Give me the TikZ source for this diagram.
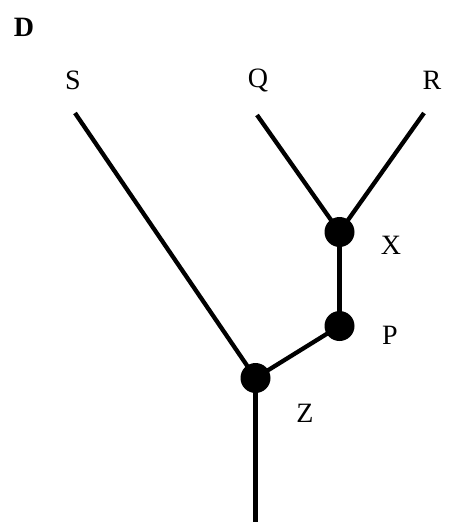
\documentclass[tikz,border=0pt]{standalone}
\usepackage{fontspec}
\setmainfont{Liberation Serif}
\begin{document}
\begin{tikzpicture}[x=1pt,y=-1pt,
  dot/.style={circle,fill=black,inner sep=0pt,minimum size=30pt},
  lbl/.style={inner sep=0pt,font=\fontsize{28}{30}\selectfont},
  edge/.style={line width=4.3pt}]
\useasboundingbox (0,0) rectangle (452,523);
\node[inner sep=0pt,font=\fontsize{28}{30}\selectfont\bfseries] (d) at (24,27) {D};
\node[lbl] (sl) at (73,80) {S};
\node[lbl] (ql) at (258,80) {Q};
\node[lbl] (rl) at (432,80) {R};
\coordinate (s) at (75,113);
\coordinate (q) at (257,115);
\coordinate (r) at (424,113);
\coordinate (b) at (255.5,522);
\node[dot] (x) at (339.5,232) {};
\node[dot] (p) at (339.5,326) {};
\node[dot] (z) at (255.5,378) {};
\node[lbl] (xl) at (391,245) {X};
\node[lbl] (pl) at (390,335) {P};
\node[lbl] (zl) at (305,413) {Z};
\draw[edge] (s) -- (z.center);
\draw[edge] (q) -- (x.center);
\draw[edge] (r) -- (x.center);
\draw[edge] (x.center) -- (p.center);
\draw[edge] (p.center) -- (z.center);
\draw[edge] (z.center) -- (b);
\end{tikzpicture}
\end{document}
